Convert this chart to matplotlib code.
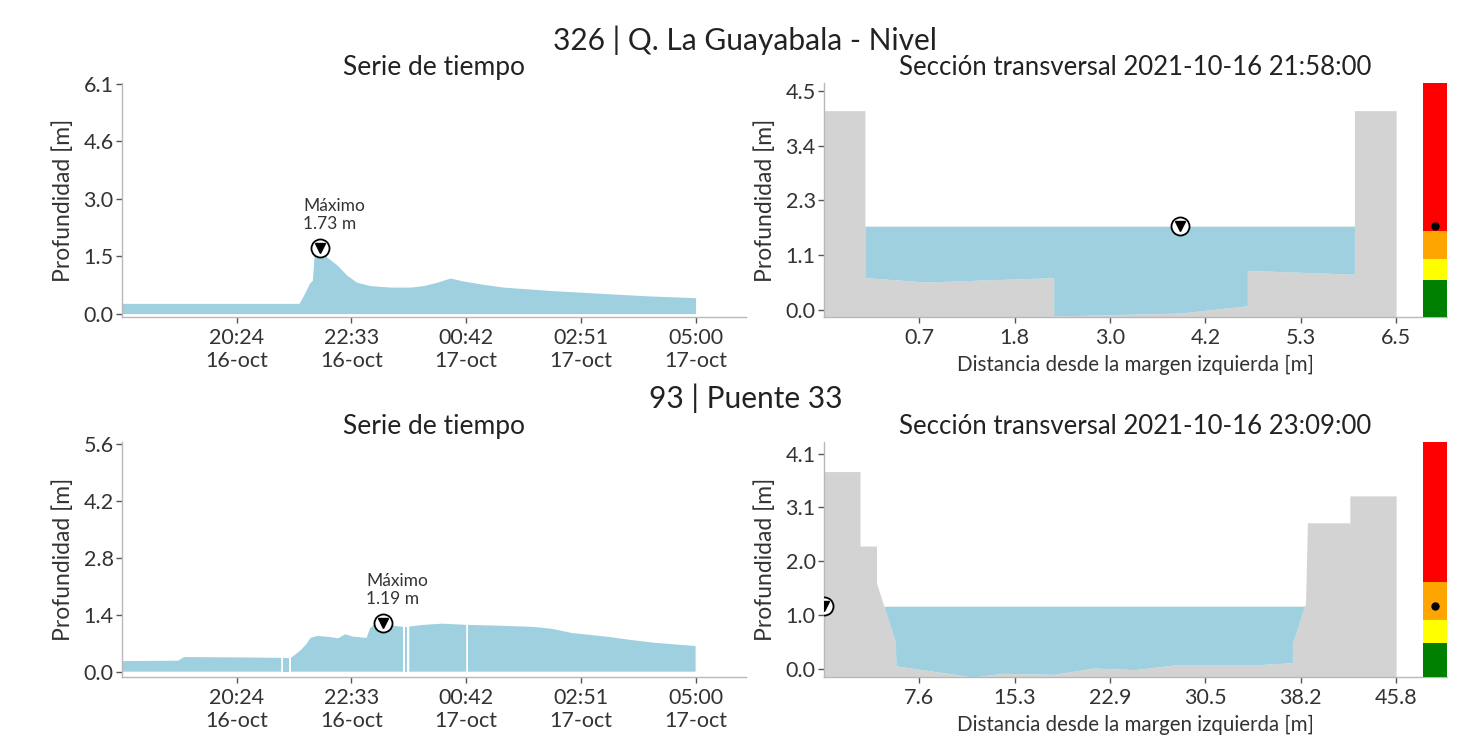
import numpy as np
import pandas as pd
import matplotlib
matplotlib.use('Agg')
import matplotlib.pyplot as plt
from matplotlib.patches import Rectangle
from matplotlib.ticker import FormatStrFormatter

plt.rcParams['font.family'] = ['Lato', 'DejaVu Sans']

AGUA = '#9fd0df'
TERRENO = '#d3d3d3'
EJE = '#b8b8b8'
TEXTO = '#333333'
colores_alerta = ['green', 'yellow', 'orange', 'red']

# 326 | Q. La Guayabala - serie de tiempo (dia hora, profundidad en m)
t_326 = ['16 18:15', '16 21:34', '16 21:39', '16 21:46', '16 21:49', '16 21:51',
         '16 21:54', '16 21:58', '16 22:05', '16 22:17', '16 22:28', '16 22:39',
         '16 22:54', '16 23:17', '16 23:39', '16 23:54', '17 00:09', '17 00:24',
         '17 00:39', '17 01:02', '17 01:24', '17 02:17', '17 03:10', '17 04:05',
         '17 05:00']
prof_326 = [0.27, 0.27, 0.48, 0.81, 0.88, 1.55,
            1.62, 1.73, 1.50, 1.28, 1.01, 0.83,
            0.74, 0.70, 0.70, 0.74, 0.83, 0.94,
            0.86, 0.77, 0.70, 0.61, 0.54, 0.47,
            0.42]
# seccion transversal
sec_x_326 = [-0.5, 0.0, 0.0, 0.74, 2.31, 2.31, 3.85, 4.68, 4.68, 5.99, 5.99, 6.5]
sec_y_326 = [4.11, 4.11, 0.67, 0.58, 0.67, -0.12, -0.06, 0.09, 0.82, 0.74, 4.11, 4.11]
umbrales_326 = [0.62, 1.06, 1.64]
nivel_326 = 1.73
x_marca_326 = 3.85
fecha_326 = '2021-10-16 21:58:00'

# 93 | Puente 33
t_93 = ['16 18:15', '16 19:18', '16 19:25', '16 20:30', '16 21:14', '16 21:15',
        '16 21:16', '16 21:23', '16 21:24', '16 21:25', '16 21:32', '16 21:37',
        '16 21:43', '16 21:47', '16 21:55', '16 22:09', '16 22:18', '16 22:26',
        '16 22:35', '16 22:50', '16 22:54', '16 22:58', '16 23:09', '16 23:20',
        '16 23:31', '16 23:32', '16 23:33', '16 23:36', '16 23:37', '16 23:38',
        '16 23:54', '17 00:15', '17 00:42', '17 00:43', '17 00:44', '17 01:20',
        '17 01:58', '17 02:19', '17 02:41', '17 03:20', '17 03:47', '17 04:14',
        '17 05:00']
prof_93 = [0.26, 0.27, 0.36, 0.35, 0.34, np.nan,
           0.34, 0.34, np.nan, 0.34, 0.46, 0.55,
           0.70, 0.83, 0.88, 0.85, 0.82, 0.92,
           0.86, 0.83, 1.07, 1.15, 1.19, 1.13,
           1.10, np.nan, 1.10, 1.10, np.nan, 1.11,
           1.15, 1.18, 1.15, np.nan, 1.15, 1.13,
           1.10, 1.05, 0.95, 0.86, 0.78, 0.71,
           0.63]
sec_x_93 = [0.0, 2.88, 2.88, 4.2, 4.2, 5.7, 5.76, 11.95, 14.3, 18.4, 21.6, 24.9,
            28.1, 34.5, 37.5, 37.5, 38.55, 38.7, 42.1, 42.1, 45.8]
sec_y_93 = [3.74, 3.74, 2.33, 2.33, 1.63, 0.52, 0.06, -0.15, -0.08, -0.10, 0.02, -0.01,
            0.08, 0.08, 0.12, 0.49, 1.25, 2.77, 2.77, 3.28, 3.28]
umbrales_93 = [0.50, 0.93, 1.64]
nivel_93 = 1.19
x_marca_93 = 0.0
fecha_93 = '2021-10-16 23:09:00'


def estilo(ax):
    for lado in ['top', 'right']:
        ax.spines[lado].set_visible(False)
    for lado in ['left', 'bottom']:
        ax.spines[lado].set_color(EJE)
        ax.spines[lado].set_linewidth(1.0)
    ax.tick_params(length=4, width=1, color='#555555', labelsize=15.5, labelcolor=TEXTO)
    ax.tick_params(axis='y', pad=2)
    ax.tick_params(axis='x', pad=4)


def marca_nivel(ax, x, y):
    ax.plot(x, y, marker='o', ms=13, mfc='white', mec='k', mew=1.3, zorder=5)
    ax.plot(x, y, marker='v', ms=7, color='k', zorder=6)


def serie(ax, tiempos, prof, ytope, ylim):
    t = pd.to_datetime(['2021-10-' + s for s in tiempos])
    v = np.array(prof, dtype=float)
    ax.fill_between(t, 0, v, color=AGUA, lw=0)
    i = np.nanargmax(v)
    marca_nivel(ax, t[i], v[i])
    ax.annotate('Máximo\n%.2f m' % v[i], (t[i], v[i]), xytext=(-12.5, 11.5),
                textcoords='offset points', ha='left', va='bottom',
                fontsize=12.5, color=TEXTO)
    marcas = pd.date_range(t[0], t[-1], periods=6)[1:]
    ax.set_xticks(marcas)
    ax.set_xticklabels(['%s\n%d-oct' % (m.strftime('%H:%M'), m.day) for m in marcas])
    ax.set_xlim(t[0], t[-1] + 0.088 * (t[-1] - t[0]))
    ax.set_yticks(np.linspace(0, ytope, 5))
    ax.yaxis.set_major_formatter(FormatStrFormatter('%.1f'))
    ax.set_ylim(ylim)
    ax.set_title('Serie de tiempo', fontsize=19, color='#222222')
    ax.set_ylabel('Profundidad [m]', fontsize=16.5, color=TEXTO, labelpad=7)
    estilo(ax)


def seccion(ax, sx, sy, nivel, x_marca, umbrales, fecha, ytope, ylim):
    sx = np.array(sx)
    sy = np.array(sy)
    ax.fill_between(sx, ylim[0], sy, color=TERRENO, lw=0)
    ax.fill_between(sx, sy, nivel, where=sy <= nivel, interpolate=True, color=AGUA, lw=0)
    rango = sx[-1] - sx[0]
    x0 = sx[-1] + 0.047 * rango
    x1 = sx[-1] + 0.089 * rango
    limites = [ylim[0]] + umbrales + [ylim[1]]
    for c, a, b in zip(colores_alerta, limites[:-1], limites[1:]):
        ax.add_patch(Rectangle((x0, a), x1 - x0, b - a, color=c, lw=0, zorder=3))
    ax.plot((x0 + x1) / 2, nivel, 'o', color='k', ms=5, zorder=4)
    marca_nivel(ax, x_marca, nivel)
    ax.set_xticks(np.linspace(sx[0], sx[-1], 7)[1:])
    ax.xaxis.set_major_formatter(FormatStrFormatter('%.1f'))
    ax.set_xlim(sx[0], x1)
    ax.set_yticks(np.linspace(0, ytope, 5))
    ax.yaxis.set_major_formatter(FormatStrFormatter('%.1f'))
    ax.set_ylim(ylim)
    ax.set_title('Sección transversal ' + fecha, fontsize=18.5, color='#222222')
    ax.set_ylabel('Profundidad [m]', fontsize=16.5, color=TEXTO, labelpad=7)
    ax.set_xlabel('Distancia desde la margen izquierda [m]', fontsize=14.8,
                  color=TEXTO, labelpad=5)
    estilo(ax)


fig = plt.figure(figsize=(14.6, 7.46), dpi=100)

ax1 = fig.add_axes([0.0836, 0.5751, 0.4274, 0.3137])
ax2 = fig.add_axes([0.5644, 0.5751, 0.4267, 0.3137])
ax3 = fig.add_axes([0.0836, 0.0925, 0.4274, 0.3150])
ax4 = fig.add_axes([0.5644, 0.0925, 0.4267, 0.3150])

serie(ax1, t_326, prof_326, 6.08, (-0.09, 6.1))
seccion(ax2, sec_x_326, sec_y_326, nivel_326, x_marca_326, umbrales_326, fecha_326,
        4.52, (-0.14, 4.68))
serie(ax3, t_93, prof_93, 5.6, (-0.13, 5.64))
seccion(ax4, sec_x_93, sec_y_93, nivel_93, x_marca_93, umbrales_93, fecha_93,
        4.08, (-0.15, 4.30))

fig.text(0.510, 1 - 50 / 746, '326 | Q. La Guayabala - Nivel', ha='center',
         va='baseline', fontsize=21.5, color='#222222')
fig.text(0.511, 1 - 408 / 746, '93 | Puente 33', ha='center',
         va='baseline', fontsize=21.5, color='#222222')

fig.savefig('out.png', dpi=100)
